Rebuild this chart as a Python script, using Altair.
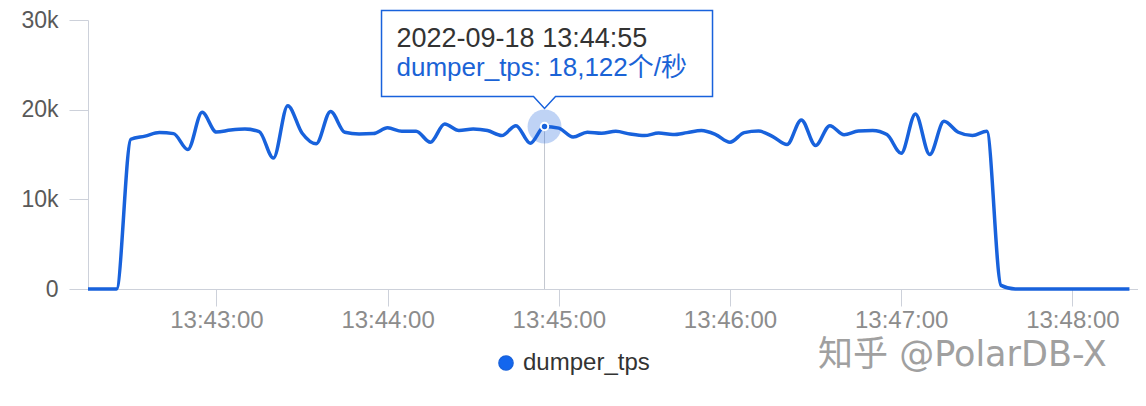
import altair as alt
import pandas as pd

# ---- data -------------------------------------------------------------
series_name = "dumper_tps"
start_time = "2022-09-18 13:42:15"
step_seconds = 5
tps_values = [
    0, 0, 0, 16700, 17050, 17450, 17330, 15550, 19700, 17500,
    17720, 17830, 17560, 14600, 20450, 17400, 16200, 19800, 17480, 17300,
    17330, 17970, 17590, 17590, 16370, 18400, 17670, 17850, 17670, 17110,
    18220, 16260, 18122, 17940, 16950, 17480, 17370, 17580, 17280, 17110,
    17390, 17220, 17440, 17670, 17220, 16370, 17440, 17610, 17000, 16110,
    18860, 16000, 18220, 17190, 17610, 17670, 17220, 15140, 19520, 15000,
    18700, 17480, 17110, 17590, 400, 0, 0, 0, 0, 0,
    0, 0, 0, 0,
]
x_tick_minutes = [43, 44, 45, 46, 47, 48]
y_ticks = [0, 10000, 20000, 30000]
hover_time = "2022-09-18T13:44:55"
hover_value = 18122
hover_title = "2022-09-18 13:44:55"
hover_label = "dumper_tps: 18,122个/秒"
watermark = "知乎 @PolarDB-X"

BLUE = "#1862dc"
AXIS_GRAY = "#cdd1da"
FONT = "Liberation Sans"
CJK_FONT = "Liberation Sans, Noto Sans CJK SC"

times = pd.date_range(start_time, periods=len(tps_values), freq=f"{step_seconds}s")
df = pd.DataFrame({
    "time": list(times.strftime("%Y-%m-%dT%H:%M:%S")),
    "value": tps_values,
    "series": series_name,
})
hover_df = pd.DataFrame({
    "time": [hover_time],
    "value": [hover_value],
    "zero": [0],
    "title": [hover_title],
    "label": [hover_label],
})


def dt(m, s=0):
    return alt.DateTime(year=2022, month=9, date=18, hours=13, minutes=m, seconds=s)


x_enc = alt.X(
    "time:T",
    scale=alt.Scale(domain=[dt(42, 15), dt(48, 23)]),
    axis=alt.Axis(
        title=None, format="%H:%M:%S", values=[dt(m) for m in x_tick_minutes],
        grid=False, labelFontSize=24, labelColor="#8c8c8c", labelFont=FONT,
        tickSize=17, tickColor=AXIS_GRAY, domainColor=AXIS_GRAY, labelPadding=2,
    ),
)
y_enc = alt.Y(
    "value:Q", scale=alt.Scale(domain=[0, 30000]),
    axis=alt.Axis(
        title=None, values=y_ticks, grid=False,
        labelExpr="datum.value == 0 ? '0' : format(datum.value / 1000, 'd') + 'k'",
        labelFontSize=23, labelColor="#595959", labelFont=FONT,
        tickSize=19, tickColor=AXIS_GRAY, domainColor=AXIS_GRAY, labelPadding=11,
    ),
)

line = alt.Chart(df).mark_line(interpolate="monotone", strokeWidth=3.5).encode(
    x=x_enc,
    y=y_enc,
    color=alt.Color(
        "series:N",
        scale=alt.Scale(domain=[series_name], range=[BLUE]),
        legend=alt.Legend(
            title=None, orient="none", legendX=406, legendY=331,
            symbolType="circle", symbolSize=200, symbolFillColor="#1366ee",
            labelFontSize=24, labelColor="#333333", labelFont=FONT, labelOffset=5,
        ),
    ),
)

rule = alt.Chart(hover_df).mark_rule(color="#c4c8d0", strokeWidth=1).encode(
    x="time:T", y="value:Q", y2="zero:Q",
)
halo = alt.Chart(hover_df).mark_circle(size=1150, color=BLUE, opacity=0.28).encode(
    x="time:T", y="value:Q",
)
dot = alt.Chart(hover_df).mark_circle(
    size=55, color=BLUE, opacity=1, stroke="white", strokeWidth=2
).encode(x="time:T", y="value:Q")

box_path = "M -163 -116 L 168 -116 L 168 -30 L 11 -30 L 0 -18 L -11 -30 L -163 -30 Z"
box = alt.Chart(hover_df).mark_point(
    shape=box_path, size=4, filled=True, fill="white", fillOpacity=0.96,
    stroke=BLUE, strokeWidth=1.5, opacity=1,
).encode(x="time:T", y="value:Q")

title_text = alt.Chart(hover_df).mark_text(
    align="left", baseline="alphabetic", dx=-148, dy=-80,
    fontSize=27, color="#333333", font=FONT,
).encode(x="time:T", y="value:Q", text="title:N")
label_text = alt.Chart(hover_df).mark_text(
    align="left", baseline="alphabetic", dx=-148, dy=-51,
    fontSize=26, color="#1a63d6", font=CJK_FONT,
).encode(x="time:T", y="value:Q", text="label:N")

wm = alt.Chart(hover_df).mark_text(
    align="left", baseline="middle", fontSize=35, color="#a0a0a0",
    font="DejaVu Sans, Noto Sans CJK SC",
).encode(x=alt.value(730), y=alt.value(335), text=alt.value(watermark))

chart = alt.layer(line, rule, halo, dot, box, title_text, label_text, wm).properties(
    width=1050, height=269,
    padding={"left": 80, "top": 12, "right": 0, "bottom": 109},
    autosize=alt.AutoSizeParams(type="none"),
).configure_view(stroke="transparent")

chart.save("out.html", embed_options={"renderer": "svg", "actions": False})
